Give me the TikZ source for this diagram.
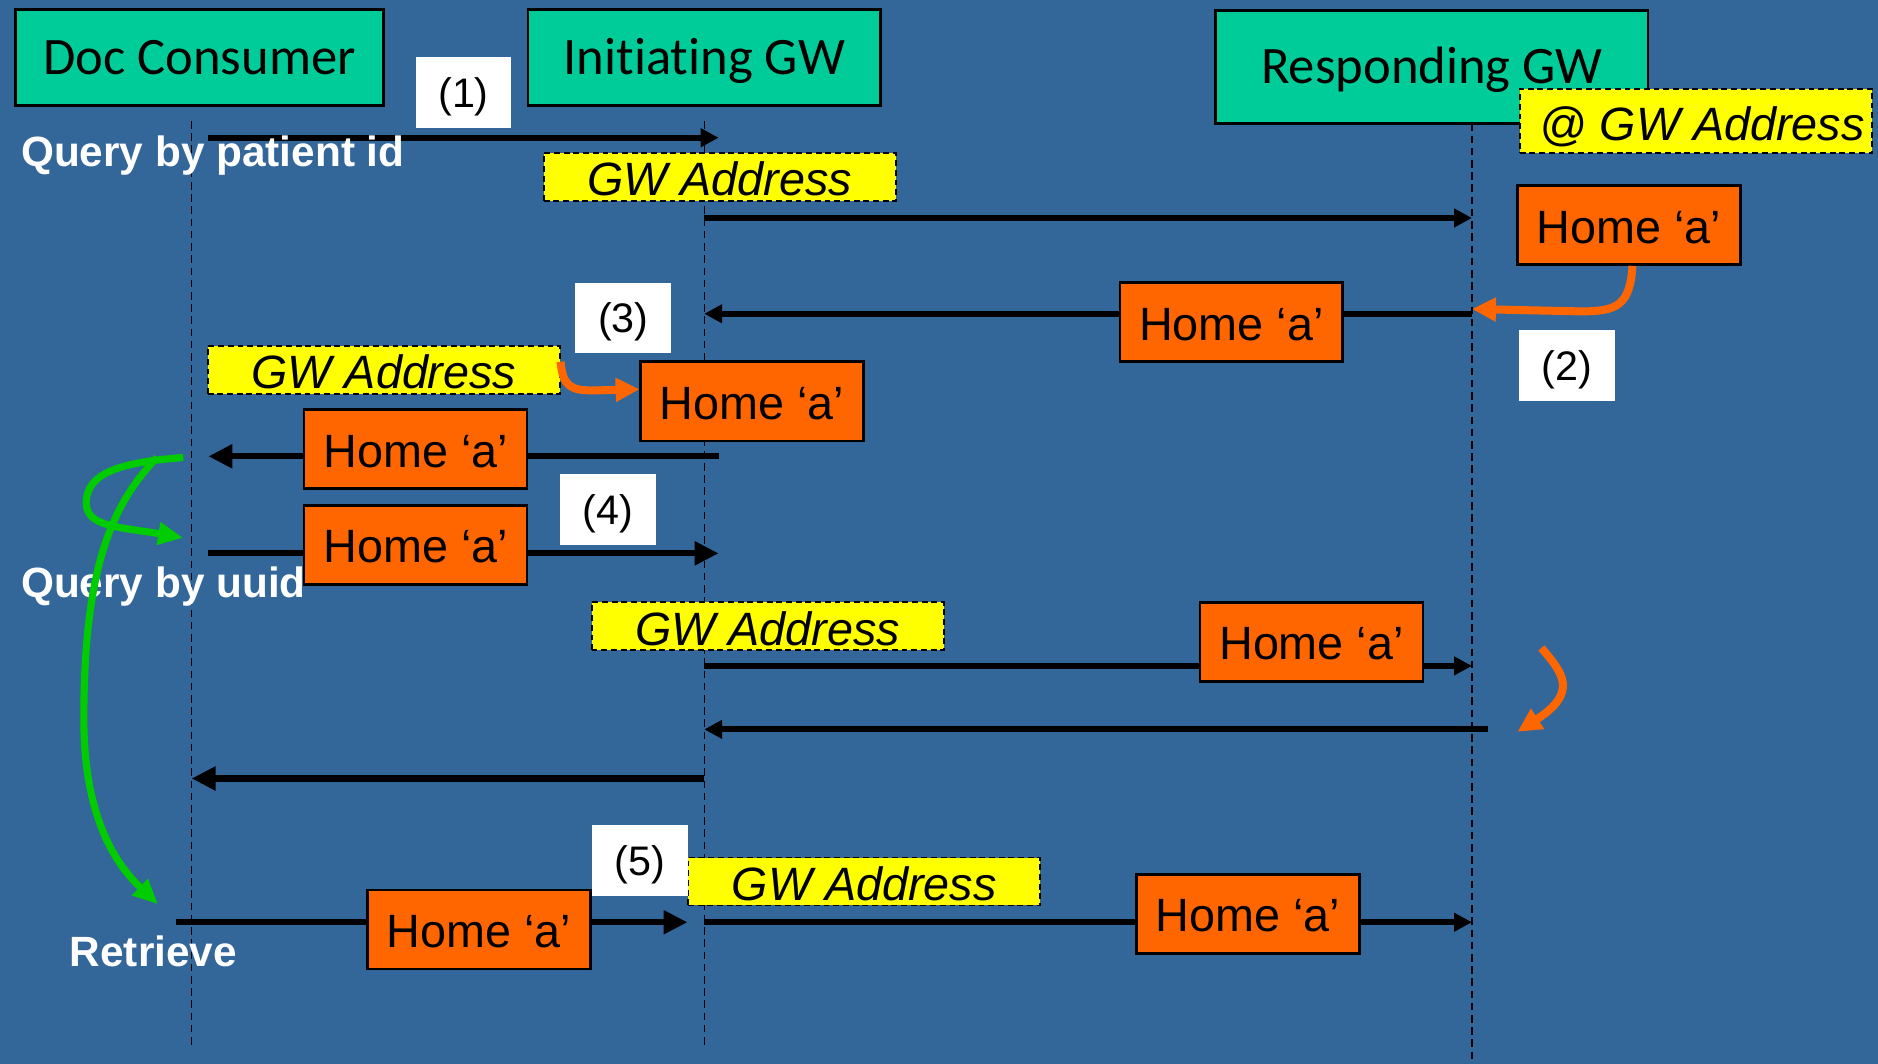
\documentclass[tikz,border=0pt]{standalone}
\usepackage{fontspec}
\setmainfont{Liberation Sans}
\newfontfamily\carlitofont[Ligatures=NoCommon]{Carlito}
\usetikzlibrary{arrows.meta}
\definecolor{bgblue}{HTML}{336699}
\definecolor{hdrteal}{HTML}{00CC99}
\definecolor{homeorange}{HTML}{FF6600}
\definecolor{gwyellow}{HTML}{FFFF00}
\definecolor{loopgreen}{HTML}{00CC00}
\begin{document}
\begin{tikzpicture}[x=0.01cm,y=-0.01cm,
  hdr/.style={draw=black, line width=0.6pt, fill=hdrteal, inner sep=0pt, text=black,
    text height=8pt, text depth=0pt,
    font=\carlitofont\fontsize{12.5}{15}\selectfont},
  home/.style={draw=black, line width=0.6pt, fill=homeorange, minimum width=1.86cm,
    minimum height=0.66cm, inner sep=0pt, text height=8.5pt, text depth=0pt,
    font=\fontsize{11.1}{13}\selectfont},
  gwaddr/.style={draw=black, line width=0.45pt, dash pattern=on 1.4pt off 0.9pt,
    fill=gwyellow, minimum width=2.94cm, minimum height=0.40cm, inner sep=0pt,
    text height=8.85pt, text depth=0pt,
    font=\itshape\fontsize{11.1}{13}\selectfont},
  numlbl/.style={fill=white, minimum width=0.80cm, minimum height=0.59cm, inner sep=0pt,
    text height=7pt, text depth=0pt, font=\fontsize{9.8}{12}\selectfont},
  phase/.style={text=white, inner sep=0pt, font=\bfseries\fontsize{10.05}{12}\selectfont,
    anchor=base west},
  lifeline/.style={draw=black, line width=0.35pt, dash pattern=on 1.8pt off 1.1pt},
  msg/.style={draw=black, line width=1.45pt, -{Triangle[length=0.15cm,width=0.15cm]}},
  msgbig/.style={draw=black, line width=1.45pt, -{Triangle[length=0.2cm,width=0.19cm]}},
  orangearr/.style={draw=homeorange, line width=1.9pt, -{Triangle[length=0.2cm,width=0.19cm]}},
  greenarr/.style={draw=loopgreen, line width=1.7pt, -{Triangle[length=0.21cm,width=0.18cm]}},
]
% background and bounding box
\fill[bgblue] (0,0) rectangle (1568,888);
\useasboundingbox (0,0) rectangle (1568,888);

% lifeline coordinates
\coordinate (dcT) at (160,101);
\coordinate (dcB) at (160,875);
\coordinate (igT) at (588,101);
\coordinate (igB) at (588,875);
\coordinate (rgT) at (1229,103);
\coordinate (rgB) at (1229,888);
\draw[lifeline] (dcT) -- (dcB);
\draw[lifeline] (igT) -- (igB);
\draw[lifeline] (rgT) -- (rgB);

% message end points
\coordinate (m1s) at (174,115);   \coordinate (m1e) at (600,115);
\coordinate (m2s) at (588,182);   \coordinate (m2e) at (1229,182);
\coordinate (m3s) at (1229,262);  \coordinate (m3e) at (588,262);
\coordinate (m4s) at (600,381);   \coordinate (m4e) at (174,381);
\coordinate (m5s) at (174,462);   \coordinate (m5e) at (600,462);
\coordinate (m6s) at (588,556);   \coordinate (m6e) at (1229,556);
\coordinate (m7s) at (1242,609);  \coordinate (m7e) at (588,609);
\coordinate (m8s) at (588,650);   \coordinate (m8e) at (160,650);
\coordinate (m9s) at (147,770);   \coordinate (m9e) at (574,770);
\coordinate (m10s) at (588,770);  \coordinate (m10e) at (1229,770);

\draw[msg] (m1s) -- (m1e);
\draw[msg] (m2s) -- (m2e);
\draw[msg] (m3s) -- (m3e);
\draw[msgbig] (m4s) -- (m4e);
\draw[msgbig] (m5s) -- (m5e);
\draw[msg] (m6s) -- (m6e);
\draw[msg] (m7s) -- (m7e);
\draw[msgbig] (m8s) -- (m8e);
\draw[msgbig] (m9s) -- (m9e);
\draw[msg] (m10s) -- (m10e);

% header boxes
\node[hdr, minimum width=3.07cm, minimum height=0.80cm] (dc) at (166.5,48) {Doc Consumer};
\node[hdr, minimum width=2.94cm, minimum height=0.80cm] (ig) at (588,48) {Initiating GW};
\node[hdr, minimum width=3.61cm, minimum height=0.94cm] (rg) at (1195.5,56) {Responding GW};

% GW address boxes
\node[gwaddr, minimum height=0.54cm, text height=9.5pt] (atgw) at (1416,101) {\hspace{0.1cm}@ GW Address};
\node[gwaddr] (ga1) at (601,148) {GW Address};
\node[gwaddr] (ga2) at (320.5,309) {GW Address};
\node[gwaddr] (ga3) at (641,523) {GW Address};
\node[gwaddr] (ga4) at (721.5,736) {GW Address};

% Home 'a' boxes
\node[home] (hA) at (1360,188) {Home ‘a’};
\node[home] (hB) at (1028,269) {Home ‘a’};
\node[home] (hC) at (628,335) {Home ‘a’};
\node[home] (hD) at (347,375) {Home ‘a’};
\node[home] (hE) at (347,455) {Home ‘a’};
\node[home] (hF) at (1095,536) {Home ‘a’};
\node[home] (hG) at (400,776) {Home ‘a’};
\node[home] (hH) at (1042,763) {Home ‘a’};

% step labels
\node[numlbl] (n1) at (387,77.5) {(1)};
\node[numlbl] (n2) at (1308.5,305) {(2)};
\node[numlbl] (n3) at (520.5,265.5) {(3)};
\node[numlbl] (n4) at (507.5,425.5) {(4)};
\node[numlbl] (n5) at (534.5,718.5) {(5)};

% phase texts
\node[phase] (qp) at (17,139) {Query by patient id};
\node[phase] (qu) at (17,499) {Query by uuid};
\node[phase] (rt) at (57.6,807) {Retrieve};

% orange arrows
\coordinate (o1s) at (1363,222);
\coordinate (o1e) at (1229,258);
\draw[orangearr] (o1s) .. controls (1361,255) and (1350,260) .. (1320,260) -- (o1e);
\coordinate (o2s) at (468,302);
\coordinate (o2e) at (534,325);
\draw[orangearr] (o2s) .. controls (470,324) and (478,326) .. (496,326) -- (o2e);
\coordinate (o3s) at (1287,541);
\coordinate (o3e) at (1267,611);
\draw[orangearr] (o3s) .. controls (1305,562) and (1318,578) .. (o3e);

% green arrows
\coordinate (g1s) at (153,382);
\coordinate (g1e) at (153,449);
\draw[greenarr] (g1s) .. controls (100,386) and (72,395) .. (72,420)
                      .. controls (72,440) and (100,440) .. (g1e);
\coordinate (g2s) at (131,382);
\coordinate (g2e) at (132,755);
\draw[greenarr] (g2s) .. controls (95,420) and (70,470) .. (70,600)
                      .. controls (70,680) and (95,720) .. (g2e);
\end{tikzpicture}
\end{document}
